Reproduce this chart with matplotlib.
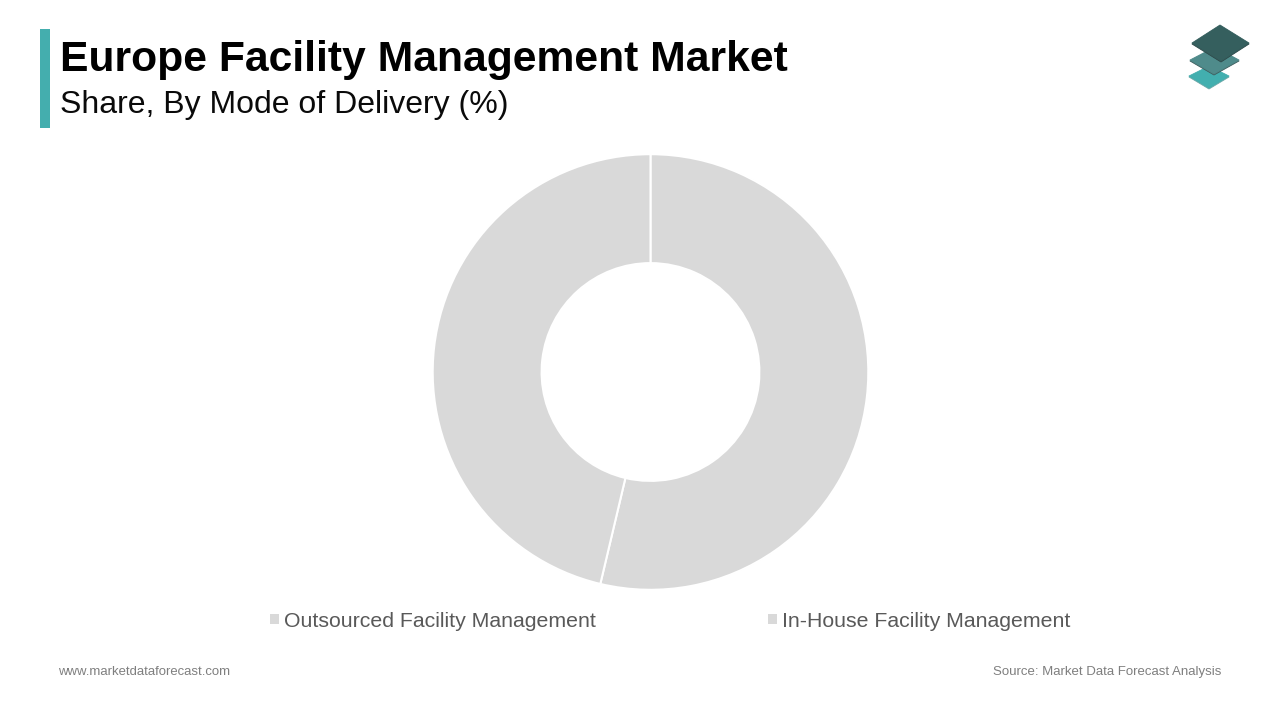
import matplotlib
matplotlib.use("Agg")
import matplotlib.pyplot as plt
from matplotlib.patches import Polygon, Rectangle

categories = ["Outsourced Facility Management", "In-House Facility Management"]
shares = [53.7, 46.3]
slice_colors = ["#D9D9D9", "#D9D9D9"]
title = "Europe Facility Management Market"
subtitle = "Share, By Mode of Delivery (%)"
footer_left = "www.marketdataforecast.com"
footer_right = "Source: Market Data Forecast Analysis"

plt.rcParams["font.family"] = ["Liberation Sans", "DejaVu Sans"]
W, H = 1280, 720
fig = plt.figure(figsize=(W / 100, H / 100), dpi=100, facecolor="white")

# Overlay in pixel coordinates for page furniture
bg = fig.add_axes([0, 0, 1, 1])
bg.set_xlim(0, W)
bg.set_ylim(H, 0)
bg.axis("off")

bg.add_patch(Rectangle((40, 29), 10, 99, color="#44AEAE", lw=0))
bg.text(60, 71.5, title, fontsize=30.7, fontweight="bold", color="black", va="baseline", ha="left")
bg.text(60, 113.5, subtitle, fontsize=23.0, color="#0A0A0A", va="baseline", ha="left")
bg.text(58.5, 675, footer_left, fontsize=9.45, color="#7F7F7F", va="baseline", ha="left")
bg.text(1221, 675, footer_right, fontsize=9.55, color="#7F7F7F", va="baseline", ha="right")

# Logo: three stacked diamonds
for pts, c, shadow in [
    ([(1209, 66), (1229, 76), (1209, 88), (1189, 76)], "#42AFAF", "#6FA8A8"),
    ([(1215, 47), (1239, 60), (1214, 74), (1190, 60)], "#4F8B8B", "#3F5F5F"),
    ([(1220, 25), (1249, 43), (1221, 61), (1192, 43)], "#355F5E", "#2E4A4A"),
]:
    bg.add_patch(Polygon([(x, y + 1.0) for x, y in pts], closed=True, fc=shadow, ec=shadow, lw=0.6, joinstyle="round"))
    bg.add_patch(Polygon(pts, closed=True, fc=c, ec=c, lw=0.6, joinstyle="round"))

# Donut
cx, cy, r = 650.5, 372, 217.8
ax = fig.add_axes([(cx - r) / W, 1 - (cy + r) / H, 2 * r / W, 2 * r / H])
wedges, _ = ax.pie(
    shares, colors=slice_colors, startangle=90, counterclock=False, radius=1,
    wedgeprops=dict(width=0.5, edgecolor="white", linewidth=1.5),
)
ax.set_xlim(-1, 1)
ax.set_ylim(-1, 1)
ax.set_aspect("equal")

leg = fig.legend(
    wedges, categories, ncol=2, frameon=False, loc="center",
    bbox_to_anchor=(670 / W, 1 - 621.5 / H), fontsize=15.35, labelcolor="#595959",
    handlelength=0.42, handleheight=0.36, handletextpad=0.25, columnspacing=8.05,
)
for h in leg.legend_handles:
    h.set_edgecolor("none")

fig.savefig("out.png", dpi=100, facecolor="white")
